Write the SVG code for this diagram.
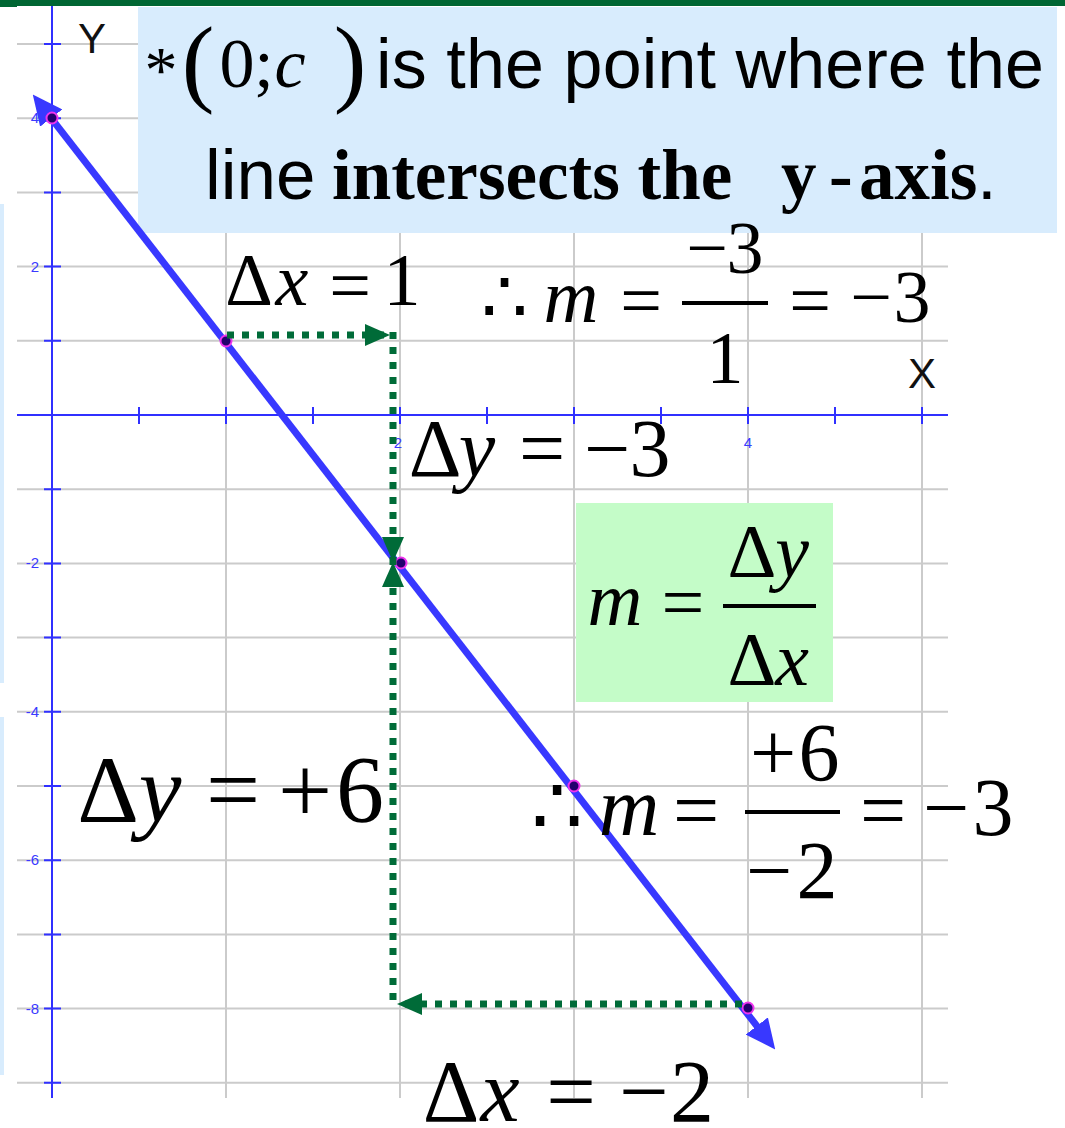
<svg xmlns="http://www.w3.org/2000/svg" width="1065" height="1128" viewBox="0 0 1065 1128">
<style>
.grid{stroke:#cbcbcb;stroke-width:2;fill:none}
.axis{stroke:#3030ff;stroke-width:2;fill:none}
.tick{stroke:#3030ff;stroke-width:2}
.lbl{font-family:"Liberation Sans",Arial,sans-serif;font-size:15px;fill:#3a3aff}
.ax{font-family:"Liberation Sans",Arial,sans-serif;font-size:42px;fill:#111}
.m{font-family:"Liberation Serif","DejaVu Serif",serif;fill:#000;text-anchor:middle}
.i{font-style:italic}
.sans{font-family:"Liberation Sans",Arial,sans-serif;fill:#000}
.bold{font-family:"Liberation Serif","DejaVu Serif",serif;font-weight:bold;fill:#000}
.dash{stroke:#006b38;stroke-width:7;stroke-dasharray:7 8;fill:none}
.bar{stroke:#000;stroke-width:4}
.pt{fill:#22006e;stroke:#ee33ee;stroke-width:2}
</style>
<defs>
<marker id="ga" viewBox="0 0 25 22" markerWidth="25" markerHeight="22" refX="25" refY="11" orient="auto" markerUnits="userSpaceOnUse">
<path d="M0,0 L25,11 L0,22 z" fill="#006b38"/>
</marker>
<marker id="ba" viewBox="0 0 30 28" markerWidth="30" markerHeight="28" refX="13" refY="14" orient="auto-start-reverse" markerUnits="userSpaceOnUse">
<path d="M0,0 L30,14 L0,28 z" fill="#3838ff"/>
</marker>
</defs>
<rect width="1065" height="1128" fill="#fff"/>
<rect x="0" y="0" width="1065" height="6" fill="#006633"/>
<rect x="0" y="0" width="17" height="7" fill="#006633"/>
<rect x="0" y="204" width="4" height="479" fill="#d8ecfd"/>
<rect x="0" y="717" width="4" height="358" fill="#d8ecfd"/>
<g id="grid">
<path class="grid" d="M17,44H948M17,118.2H948M17,192.4H948M17,266.6H948M17,340.8H948M17,489.2H948M17,563.4H948M17,637.6H948M17,711.8H948M17,786H948M17,860.2H948M17,934.4H948M17,1008.6H948M17,1082.8H948"/>
<path class="grid" d="M226,8V1098M400,8V1098M574,8V1098M748,8V1098M922,8V1098"/>
</g>
<g id="axes">
<path class="axis" d="M52,6V1098M17,415H948"/>
<path class="tick" d="M44,44H61M44,118.2H61M44,192.4H61M44,266.6H61M44,340.8H61M44,489.2H61M44,563.4H61M44,637.6H61M44,711.8H61M44,786H61M44,860.2H61M44,934.4H61M44,1008.6H61M44,1082.8H61"/>
<path class="tick" d="M139,407V424M226,407V424M313,407V424M400,407V424M487,407V424M574,407V424M661,407V424M748,407V424M835,407V424M922,407V424"/>
<g class="lbl" text-anchor="end">
<text x="39" y="123">4</text>
<text x="39" y="272">2</text>
<text x="39" y="568">-2</text>
<text x="39" y="717">-4</text>
<text x="39" y="865">-6</text>
<text x="39" y="1014">-8</text>
</g>
<g class="lbl" text-anchor="middle">
<text x="398" y="448">2</text>
<text x="748" y="448">4</text>
</g>
<text class="ax" x="92" y="53" text-anchor="middle">Y</text>
<text class="ax" x="922" y="388" text-anchor="middle">X</text>
</g>
<g id="note">
<rect x="138" y="7" width="919" height="226" fill="#d8ecfd"/>
<text class="m" x="161" y="92" font-size="66">*</text>
<text class="m" x="198" y="94" font-size="98">(</text>
<text class="m" x="237" y="87" font-size="70">0</text>
<text class="m" x="264" y="87" font-size="70">;</text>
<text class="m i" x="290" y="87" font-size="70">c</text>
<text class="m" x="350" y="94" font-size="98">)</text>
<text class="sans" x="376" y="88" font-size="70" textLength="668" lengthAdjust="spacing">is the point where the</text>
<text class="sans" x="205" y="199" font-size="71">line</text>
<text class="bold" x="332" y="199" font-size="71">intersects the</text>
<text class="bold" x="781" y="199" font-size="71">y</text>
<text class="bold" x="829" y="199" font-size="71">-</text>
<text class="bold" x="859" y="199" font-size="71">axis</text>
<text class="sans" x="977" y="199" font-size="71">.</text>
</g>
<g id="slope-box">
<rect x="576" y="503" width="257" height="199" fill="#c4fcc8"/>
<text class="m i" x="615" y="625" font-size="76">m</text>
<text class="m" x="683" y="628" font-size="76">=</text>
<line class="bar" x1="723" y1="606" x2="816" y2="606"/>
<text class="m" x="752" y="577" font-size="76">Δ</text>
<text class="m i" x="792" y="577" font-size="76">y</text>
<text class="m" x="752" y="685" font-size="76">Δ</text>
<text class="m i" x="792" y="685" font-size="76">x</text>
</g>
<g id="slope-line">
<path d="M43.2,107.8 L764.8,1036.2" stroke="#3838ff" stroke-width="7" fill="none" marker-start="url(#ba)" marker-end="url(#ba)"/>
<circle class="pt" cx="52" cy="118" r="5.5"/>
<circle class="pt" cx="226" cy="341" r="5.5"/>
<circle class="pt" cx="401" cy="563" r="5.5"/>
<circle class="pt" cx="574" cy="786" r="5.5"/>
<circle class="pt" cx="748" cy="1008" r="5.5"/>
</g>
<g id="connectors">
<path class="dash" d="M227,335 H390" marker-end="url(#ga)"/>
<path class="dash" d="M393,332 V562" marker-end="url(#ga)"/>
<path class="dash" d="M742,1004 H397" marker-end="url(#ga)"/>
<path class="dash" d="M393,1000 V562" marker-end="url(#ga)"/>
</g>
<g id="eq-dx1">
<text class="m" x="249" y="305" font-size="74">Δ</text>
<text class="m i" x="292" y="305" font-size="74">x</text>
<text class="m" x="350" y="310" font-size="74">=</text>
<text class="m" x="402" y="305" font-size="74">1</text>
</g>
<g id="eq-m1">
<text class="m" x="504" y="322" font-size="74">∴</text>
<text class="m i" x="571" y="322" font-size="76">m</text>
<text class="m" x="641" y="325" font-size="74">=</text>
<text class="m" x="707" y="273" font-size="74">−</text>
<text class="m" x="745" y="273" font-size="74">3</text>
<line class="bar" x1="682" y1="303" x2="768" y2="303"/>
<text class="m" x="725" y="383" font-size="74">1</text>
<text class="m" x="810" y="325" font-size="74">=</text>
<text class="m" x="871" y="322" font-size="74">−</text>
<text class="m" x="912" y="322" font-size="74">3</text>
</g>
<g id="eq-dy3">
<text class="m" x="435" y="476" font-size="82">Δ</text>
<text class="m i" x="477" y="476" font-size="82">y</text>
<text class="m" x="542" y="476" font-size="82">=</text>
<text class="m" x="607" y="476" font-size="82">−</text>
<text class="m" x="650" y="476" font-size="82">3</text>
</g>
<g id="eq-dy6">
<text class="m" x="108" y="822" font-size="96">Δ</text>
<text class="m i" x="160" y="822" font-size="96">y</text>
<text class="m" x="233" y="822" font-size="96">=</text>
<text class="m" x="305" y="822" font-size="96">+</text>
<text class="m" x="360" y="822" font-size="96">6</text>
</g>
<g id="eq-m2">
<text class="m" x="557" y="835" font-size="82">∴</text>
<text class="m i" x="629" y="835" font-size="84">m</text>
<text class="m" x="696" y="838" font-size="82">=</text>
<text class="m" x="773" y="780" font-size="82">+</text>
<text class="m" x="819" y="780" font-size="82">6</text>
<line class="bar" x1="745" y1="812" x2="840" y2="812"/>
<text class="m" x="769" y="898" font-size="82">−</text>
<text class="m" x="817" y="898" font-size="82">2</text>
<text class="m" x="883" y="838" font-size="82">=</text>
<text class="m" x="946" y="835" font-size="82">−</text>
<text class="m" x="993" y="835" font-size="82">3</text>
</g>
<g id="eq-dx2">
<text class="m" x="451" y="1121" font-size="88">Δ</text>
<text class="m i" x="500" y="1121" font-size="88">x</text>
<text class="m" x="571" y="1121" font-size="88">=</text>
<text class="m" x="644" y="1121" font-size="88">−</text>
<text class="m" x="692" y="1121" font-size="88">2</text>
</g>
</svg>
